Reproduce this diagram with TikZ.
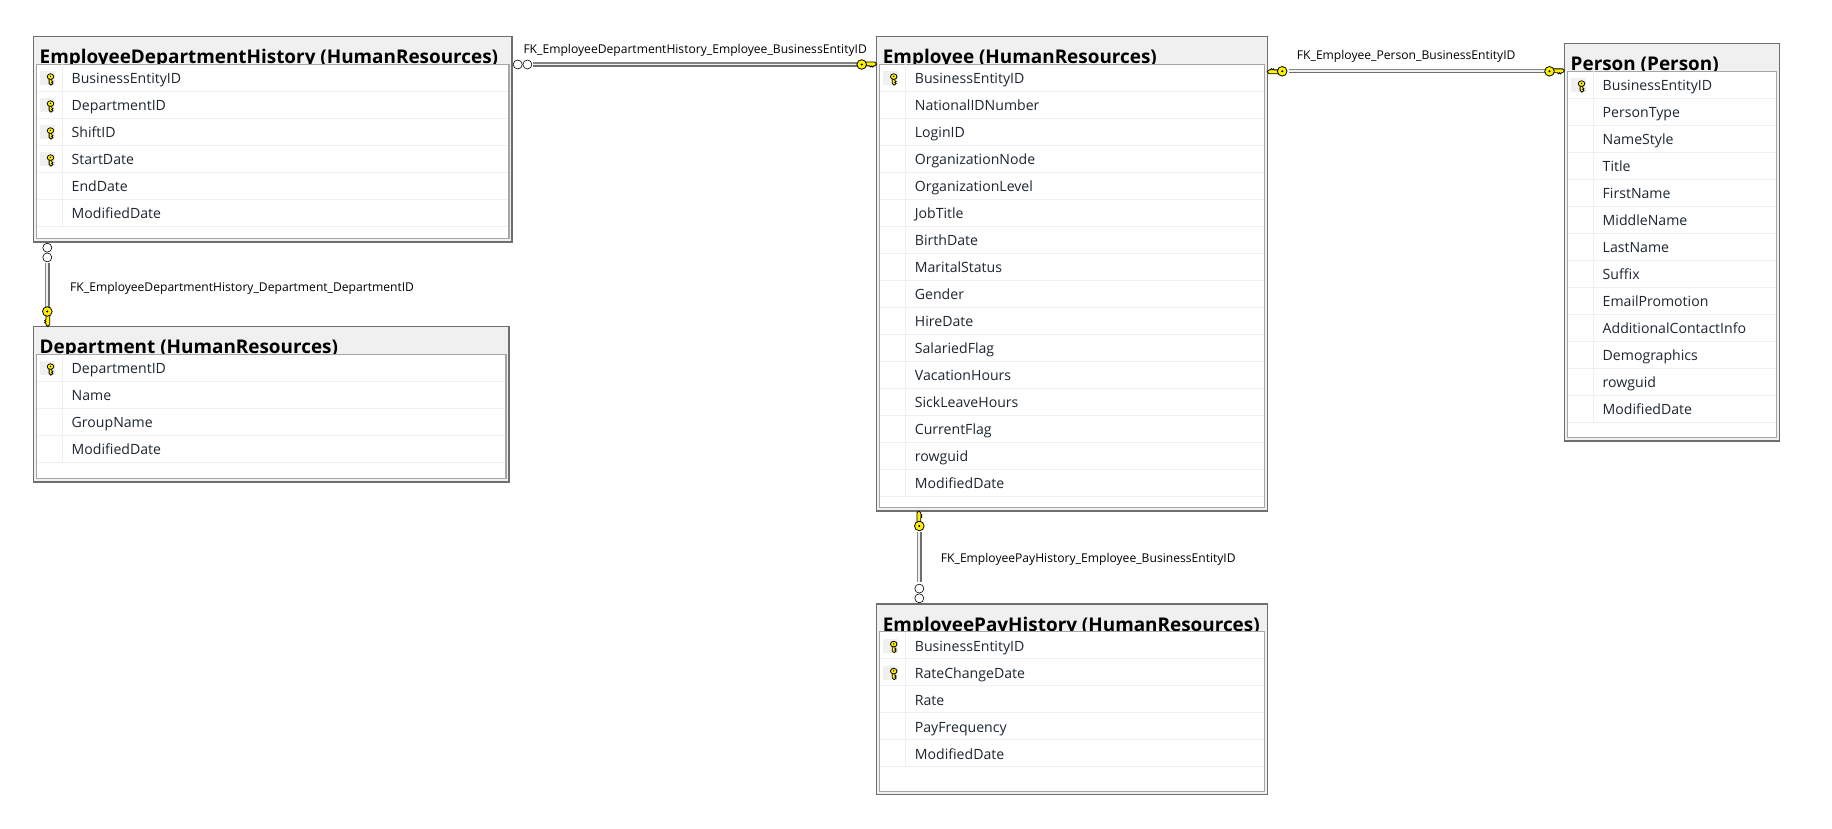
\documentclass[tikz,border=0pt]{standalone}
\usepackage{fontspec}
\setmainfont{Open Sans}
\definecolor{bandgrey}{HTML}{F0F0F0}
\definecolor{outergrey}{HTML}{6E6E6E}
\definecolor{innergrey}{HTML}{A6A6A6}
\definecolor{rowline}{HTML}{EFEFEF}
\definecolor{rowtext}{HTML}{1C2630}
\definecolor{keyyellow}{HTML}{FFF200}
\tikzset{
  tableouter/.style={draw=outergrey,line width=1.4pt,fill=bandgrey,inner sep=0pt,outer sep=0pt,anchor=north west},
  tableinner/.style={draw=innergrey,line width=1.2pt,fill=white,inner sep=0pt,outer sep=0pt,anchor=north west},
  tabletitle/.style={font=\bfseries\fontsize{18.9}{20}\selectfont,text=black,inner sep=0pt,anchor=base west},
  rowlabel/.style={font=\fontsize{14.1}{16}\selectfont,text=rowtext,inner sep=0pt,anchor=base west},
  fklabel/.style={font=\fontsize{12.1}{14}\selectfont,text=black,inner sep=0pt,anchor=base west},
  fkline/.style={draw=innergrey!80!black,line width=1.2pt,double=bandgrey,double distance=1.8pt},
  fkedge/.style={draw=outergrey,line width=1.2pt},
  fkkey/.pic={
    \draw[fill=keyyellow,draw=black,line width=.8pt]
      (-11,-2.4)--(-1.8,-2.4)--(0,-0.4)--(-1.8,1.4)--(-3,1.4)--(-4,2.6)--(-5,1.4)--(-6,2.6)--(-7,1.4)--(-11,1.4)--cycle;
    \draw[fill=keyyellow,draw=black,line width=.8pt] (-15,0) circle (4.8);
    \fill[black] (-15,0) circle (1.1);
  },
  fkcrow/.pic={
    \draw[fill=white,draw=black,line width=.6pt] (5.7,0) circle (4.5);
    \draw[fill=white,draw=black,line width=.6pt] (15.4,0) circle (4.5);
  },
  rowkey/.pic={
    \fill[bandgrey] (-7.5,-7)rectangle(7.5,7);
    \begin{scope}[shift={(3,1)}]
    \draw[fill=keyyellow,draw=black,line width=.8pt]
      (-1.4,-1)--(-1.4,4.2)--(0.4,6)--(2.4,4.4)--(1.2,3.4)--(2.4,2.4)--(1.2,1.6)--(1.4,-1)--cycle;
    \draw[fill=keyyellow,draw=black,line width=.8pt] (0,-2.6) ellipse (3.3 and 2.8);
    \fill[black] (0,-2.8) circle (.7);
    \end{scope}
  }
}
\newcommand{\dbtable}[8]{%
  \node[tableouter,minimum width=#4pt,minimum height=#5pt] (#1) at (#2,#3) {};
  \node[tabletitle] (#1-title) at (#2+6,#3+27) {#6};
  \node[tableinner,minimum width=#4pt-6pt,minimum height=#5pt-31pt] (#1-inner) at (#2+3,#3+27.7) {};
  \foreach \rowtxt [count=\i] in {#8} {
    \draw[rowline,line width=1pt] (#2+3.6,#3+27.7+27*\i) -- (#2+#4-3.6,#3+27.7+27*\i);
    \ifnum\i>#7\relax\else
      \pic at (#2+14,#3+27.7+14+27*\i-27) {rowkey};
    \fi
    \node[rowlabel] (#1-r\i) at (#2+38,#3+27.7+19.3+27*\i-27) {\rowtxt};
    \draw[rowline,line width=1pt] (#2+29.2,#3+27.7+27*\i-27) -- (#2+29.2,#3+27.7+27*\i);
  }
}
\begin{document}
\begin{tikzpicture}[x=1pt,y=-1pt]
\useasboundingbox (0,0) rectangle (1832,829);
\fill[white] (0,0) rectangle (1832,829);
\dbtable{edh}{33.5}{36.5}{478.5}{205.5}{EmployeeDepartmentHistory (HumanResources)}{4}{BusinessEntityID,DepartmentID,ShiftID,StartDate,EndDate,ModifiedDate}
\dbtable{dept}{33.5}{326.5}{475.5}{155.5}{Department (HumanResources)}{1}{DepartmentID,Name,GroupName,ModifiedDate}
\dbtable{emp}{876.7}{36.5}{390.5}{474.5}{Employee (HumanResources)}{1}{BusinessEntityID,NationalIDNumber,LoginID,OrganizationNode,OrganizationLevel,JobTitle,BirthDate,MaritalStatus,Gender,HireDate,SalariedFlag,VacationHours,SickLeaveHours,CurrentFlag,rowguid,ModifiedDate}
\dbtable{eph}{876.7}{604}{390.5}{190.5}{EmployeePayHistory (HumanResources)}{2}{BusinessEntityID,RateChangeDate,Rate,PayFrequency,ModifiedDate}
\dbtable{person}{1564.5}{43.5}{215}{397.5}{Person (Person)}{1}{BusinessEntityID,PersonType,NameStyle,Title,FirstName,MiddleName,LastName,Suffix,EmailPromotion,AdditionalContactInfo,Demographics,rowguid,ModifiedDate}
% connector end points
\coordinate (c1a) at ([yshift=-28pt]edh.north east);
\coordinate (c1b) at ([yshift=-28pt]emp.north west);
\coordinate (c2a) at ([yshift=-34.8pt]emp.north east);
\coordinate (c2b) at ([yshift=-27.8pt]person.north west);
\coordinate (c3a) at ([xshift=13.8pt]edh.south west);
\coordinate (c3b) at ([xshift=13.8pt]dept.north west);
\coordinate (c4a) at ([xshift=42.6pt]emp.south west);
\coordinate (c4b) at ([xshift=42.6pt]eph.north west);
\draw[fkline,shorten <=21pt,shorten >=20pt] (c1a) -- (c1b);
\draw[fkline,shorten <=22pt,shorten >=20pt] (c2a) -- (c2b);
\draw[fkline,shorten <=21pt,shorten >=19.5pt] (c3a) -- (c3b);
\draw[fkline,shorten <=21pt,shorten >=22pt] (c4a) -- (c4b);
\draw[fkedge,shorten <=21pt,shorten >=20pt,transform canvas={yshift=-1.6pt}] (c1a) -- (c1b);
\draw[fkedge,shorten <=22pt,shorten >=20pt,transform canvas={yshift=-1.6pt}] (c2a) -- (c2b);
\draw[fkedge,shorten <=21pt,shorten >=19.5pt,transform canvas={xshift=1.6pt}] (c3a) -- (c3b);
\draw[fkedge,shorten <=21pt,shorten >=22pt,transform canvas={xshift=1.6pt}] (c4a) -- (c4b);
\pic at (c1a) {fkcrow};
\pic at (c1b) {fkkey};
\pic[rotate=180] at (c2a) {fkkey};
\pic at (c2b) {fkkey};
\pic[rotate=-90] at (c3a) {fkcrow};
\pic[rotate=-90] at (c3b) {fkkey};
\pic[rotate=90] at (c4a) {fkkey};
\pic[rotate=90] at (c4b) {fkcrow};
\node[fklabel] (l1) at (523.3,53.3) {FK\_EmployeeDepartmentHistory\_Employee\_BusinessEntityID};
\node[fklabel] (l2) at (1296.7,60) {FK\_Employee\_Person\_BusinessEntityID};
\node[fklabel] (l3) at (70,291.5) {FK\_EmployeeDepartmentHistory\_Department\_DepartmentID};
\node[fklabel] (l4) at (940.7,562.3) {FK\_EmployeePayHistory\_Employee\_BusinessEntityID};
\end{tikzpicture}
\end{document}
